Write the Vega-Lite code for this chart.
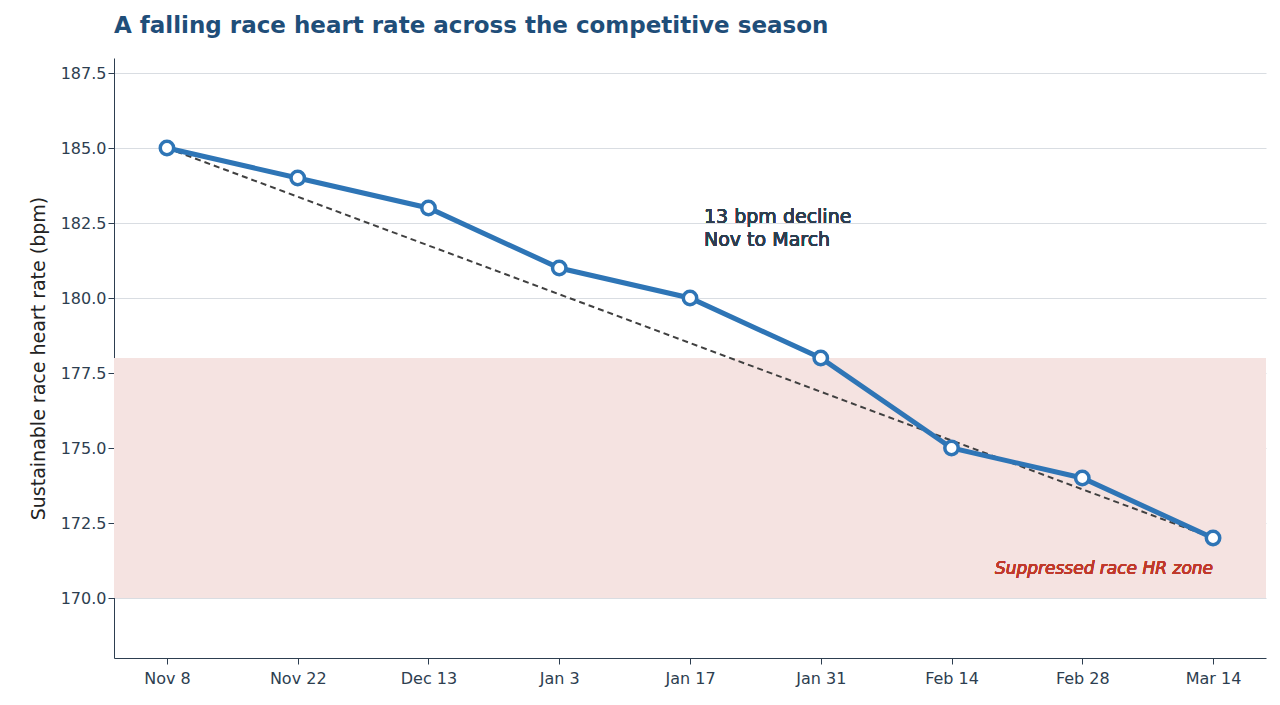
{
  "$schema": "https://vega.github.io/schema/vega-lite/v6.json",
  "width": 1152,
  "height": 600,
  "autosize": "none",
  "padding": {"left": 114, "top": 58, "right": 14, "bottom": 47},
  "background": "white",
  "title": {
    "text": "A falling race heart rate across the competitive season",
    "anchor": "start",
    "frame": "group",
    "font": "DejaVu Sans",
    "fontSize": 23,
    "fontWeight": "bold",
    "color": "#1f4e79",
    "offset": 20
  },
  "config": {
    "view": {"stroke": null},
    "font": "DejaVu Sans"
  },
  "data": {
    "values": [
      {"date": "Nov 8", "hr": 185, "trend": 185},
      {"date": "Nov 22", "hr": 184, "trend": 183.375},
      {"date": "Dec 13", "hr": 183, "trend": 181.75},
      {"date": "Jan 3", "hr": 181, "trend": 180.125},
      {"date": "Jan 17", "hr": 180, "trend": 178.5},
      {"date": "Jan 31", "hr": 178, "trend": 176.875},
      {"date": "Feb 14", "hr": 175, "trend": 175.25},
      {"date": "Feb 28", "hr": 174, "trend": 173.625},
      {"date": "Mar 14", "hr": 172, "trend": 172}
    ]
  },
  "encoding": {
    "x": {
      "field": "date", "type": "ordinal", "sort": null,
      "scale": {"type": "point", "padding": 0.405},
      "axis": {"title": null, "labelAngle": 0, "labelFontSize": 16, "labelColor": "#2d3e50",
               "domainColor": "#2d3e50", "tickColor": "#2d3e50", "tickSize": 6, "labelPadding": 6, "grid": false}
    }
  },
  "layer": [
    {
      "mark": {"type": "rect", "color": "#f5e3e1"},
      "encoding": {"x": null, "y": {"datum": 170, "type": "quantitative"}, "y2": {"datum": 178}}
    },
    {
      "mark": {"type": "line", "strokeDash": [6, 4], "color": "#404040", "strokeWidth": 2},
      "encoding": {
        "y": {
          "field": "trend", "type": "quantitative",
          "scale": {"domain": [168, 188], "nice": false, "zero": false},
          "axis": {"title": "Sustainable race heart rate (bpm)", "titleFontSize": 19, "titleFontWeight": "normal",
                   "titleColor": "#222", "values": [170, 172.5, 175, 177.5, 180, 182.5, 185, 187.5],
                   "format": ".1f", "labelFontSize": 16, "labelColor": "#2d3e50", "grid": true, "gridColor": "#d9dde2",
                   "domainColor": "#2d3e50", "tickColor": "#2d3e50", "tickSize": 6, "titlePadding": 12}
        }
      }
    },
    {
      "mark": {"type": "line", "color": "#2e75b6", "strokeWidth": 5,
               "point": {"filled": true, "fill": "white", "stroke": "#2e75b6", "strokeWidth": 3.5, "size": 180}},
      "encoding": {"y": {"field": "hr", "type": "quantitative"}}
    },
    {
      "mark": {"type": "text", "text": ["13 bpm decline", "Nov to March"], "align": "left", "baseline": "top",
               "fontSize": 19, "fontWeight": 400, "color": "#2d3e50", "dx": 14, "lineHeight": 23},
      "encoding": {"x": {"datum": "Jan 17"}, "y": {"datum": 183.0}}
    },
    {
      "mark": {"type": "text", "text": "Suppressed race HR zone", "align": "right", "baseline": "middle",
               "fontSize": 17, "fontWeight": 400, "fontStyle": "italic", "color": "#c0392b"},
      "encoding": {"x": {"datum": "Mar 14"}, "y": {"datum": 170.97}}
    }
  ]
}
